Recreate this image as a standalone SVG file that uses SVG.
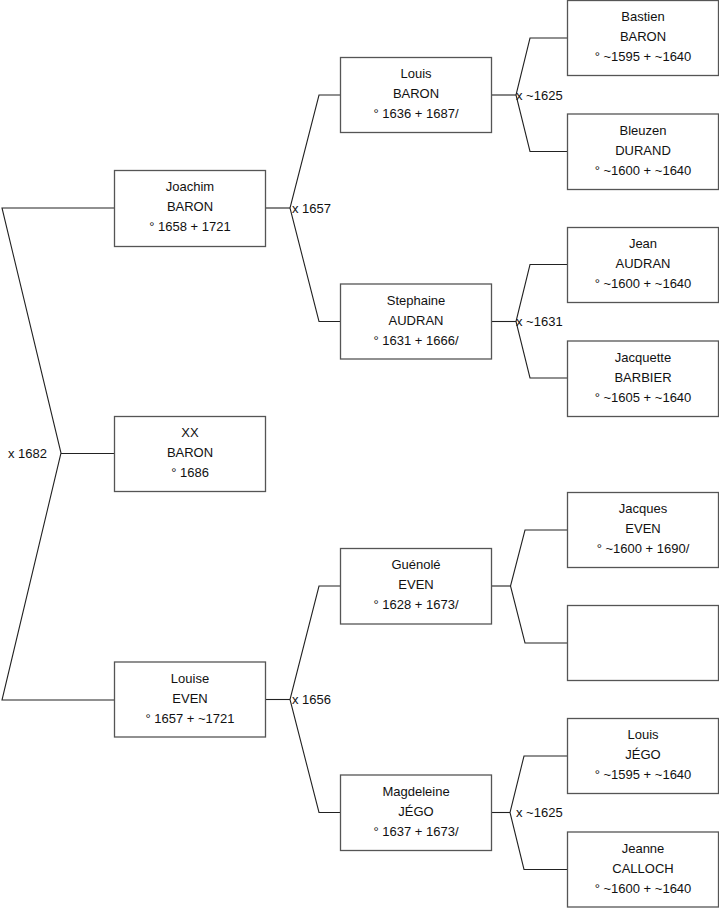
<svg xmlns="http://www.w3.org/2000/svg" width="719" height="908" viewBox="0 0 719 908">
<style>
.box{fill:#ffffff;stroke:#555555;stroke-width:1.3}
.t{font-family:"Liberation Sans",Arial,sans-serif;font-size:13px;fill:#111111;text-anchor:middle}
.l{font-family:"Liberation Sans",Arial,sans-serif;font-size:13px;fill:#111111}
.c{fill:none;stroke:#222222;stroke-width:1.1}
</style>
<rect width="719" height="908" fill="#ffffff"/>
<g id="connectors">
<polyline class="c" points="114,208 2,208 61,453 2,700 114,700"/>
<line class="c" x1="61" y1="453.5" x2="114" y2="453.5"/>
<polyline class="c" points="340,95 319,95 290,208 319,321.5 340,321.5"/>
<line class="c" x1="265" y1="208" x2="290" y2="208"/>
<polyline class="c" points="340,586 319,586 290,699.5 319,812.5 340,812.5"/>
<line class="c" x1="265" y1="699.5" x2="290" y2="699.5"/>
<polyline class="c" points="567,38 530,38 516,95 530,151.5 567,151.5"/>
<line class="c" x1="491" y1="95" x2="516" y2="95"/>
<polyline class="c" points="567,264.5 530,264.5 516,321.5 530,378 567,378"/>
<line class="c" x1="491" y1="321.5" x2="516" y2="321.5"/>
<polyline class="c" points="567,530 525,530 510.5,586 525,643 567,643"/>
<line class="c" x1="491" y1="586" x2="510.5" y2="586"/>
<polyline class="c" points="567,756 524,756 510,812.5 524,869.5 567,869.5"/>
<line class="c" x1="491" y1="812.5" x2="510" y2="812.5"/>
<text class="l" x="8" y="458">x 1682</text>
<text class="l" x="292" y="212.5">x 1657</text>
<text class="l" x="292" y="704">x 1656</text>
<text class="l" x="516" y="99.5">x ~1625</text>
<text class="l" x="516" y="326">x ~1631</text>
<text class="l" x="516" y="817">x ~1625</text>
</g>
<g id="joachim"><rect class="box" x="114.5" y="170.5" width="151" height="76"/><text class="t" x="190" y="191">Joachim</text><text class="t" x="190" y="211">BARON</text><text class="t" x="190" y="231">° 1658 + 1721</text></g>
<g id="xx"><rect class="box" x="114.5" y="416.5" width="151" height="75"/><text class="t" x="190" y="437">XX</text><text class="t" x="190" y="457">BARON</text><text class="t" x="190" y="477">° 1686</text></g>
<g id="louise"><rect class="box" x="114.5" y="662" width="151" height="75"/><text class="t" x="190" y="682.5">Louise</text><text class="t" x="190" y="702.5">EVEN</text><text class="t" x="190" y="722.5">° 1657 + ~1721</text></g>
<g id="louis"><rect class="box" x="340.5" y="57.5" width="151" height="75"/><text class="t" x="416" y="78">Louis</text><text class="t" x="416" y="98">BARON</text><text class="t" x="416" y="118">° 1636 + 1687/</text></g>
<g id="stephaine"><rect class="box" x="340.5" y="284" width="151" height="75"/><text class="t" x="416" y="304.5">Stephaine</text><text class="t" x="416" y="324.5">AUDRAN</text><text class="t" x="416" y="344.5">° 1631 + 1666/</text></g>
<g id="guenole"><rect class="box" x="340.5" y="548.5" width="151" height="75.5"/><text class="t" x="416" y="569">Guénolé</text><text class="t" x="416" y="589">EVEN</text><text class="t" x="416" y="609">° 1628 + 1673/</text></g>
<g id="magdeleine"><rect class="box" x="340.5" y="775" width="151" height="75.5"/><text class="t" x="416" y="795.5">Magdeleine</text><text class="t" x="416" y="815.5">JÉGO</text><text class="t" x="416" y="835.5">° 1637 + 1673/</text></g>
<g id="bastien"><rect class="box" x="567.5" y="0.5" width="151" height="75"/><text class="t" x="643" y="21">Bastien</text><text class="t" x="643" y="41">BARON</text><text class="t" x="643" y="61">° ~1595 + ~1640</text></g>
<g id="bleuzen"><rect class="box" x="567.5" y="114" width="151" height="75.5"/><text class="t" x="643" y="134.5">Bleuzen</text><text class="t" x="643" y="154.5">DURAND</text><text class="t" x="643" y="174.5">° ~1600 + ~1640</text></g>
<g id="jean"><rect class="box" x="567.5" y="227.5" width="151" height="75"/><text class="t" x="643" y="248">Jean</text><text class="t" x="643" y="268">AUDRAN</text><text class="t" x="643" y="288">° ~1600 + ~1640</text></g>
<g id="jacquette"><rect class="box" x="567.5" y="341" width="151" height="75.5"/><text class="t" x="643" y="361.5">Jacquette</text><text class="t" x="643" y="381.5">BARBIER</text><text class="t" x="643" y="401.5">° ~1605 + ~1640</text></g>
<g id="jacques"><rect class="box" x="567.5" y="492.5" width="151" height="75"/><text class="t" x="643" y="513">Jacques</text><text class="t" x="643" y="533">EVEN</text><text class="t" x="643" y="553">° ~1600 + 1690/</text></g>
<g id="empty"><rect class="box" x="567.5" y="605.5" width="151" height="75"/></g>
<g id="louis-jego"><rect class="box" x="567.5" y="718.5" width="151" height="75"/><text class="t" x="643" y="739">Louis</text><text class="t" x="643" y="759">JÉGO</text><text class="t" x="643" y="779">° ~1595 + ~1640</text></g>
<g id="jeanne"><rect class="box" x="567.5" y="832" width="151" height="75"/><text class="t" x="643" y="852.5">Jeanne</text><text class="t" x="643" y="872.5">CALLOCH</text><text class="t" x="643" y="892.5">° ~1600 + ~1640</text></g>
</svg>
